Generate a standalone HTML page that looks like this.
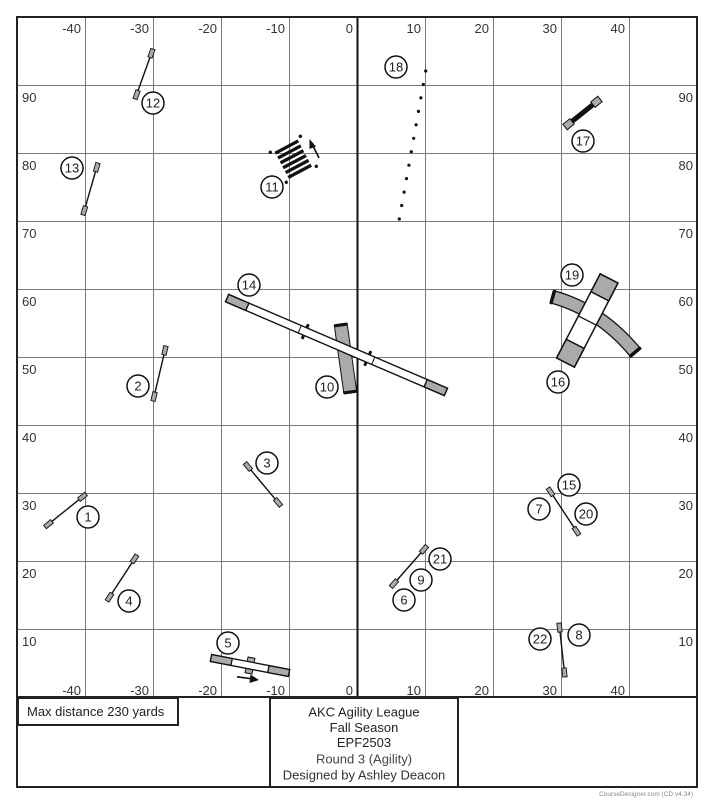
<!DOCTYPE html>
<html><head><meta charset="utf-8"><style>
html,body{margin:0;padding:0;background:#fff;}
svg{display:block;font-family:"Liberation Sans",Arial,sans-serif;}
</style></head><body>
<svg width="714" height="808" viewBox="0 0 714 808" xmlns="http://www.w3.org/2000/svg">
<rect x="0" y="0" width="714" height="808" fill="#fff"/>
<!-- grid -->
<g stroke="#7a7a7a" stroke-width="1">
<line x1="85.5" y1="17" x2="85.5" y2="697"/>
<line x1="153.5" y1="17" x2="153.5" y2="697"/>
<line x1="221.5" y1="17" x2="221.5" y2="697"/>
<line x1="289.5" y1="17" x2="289.5" y2="697"/>
<line x1="425.5" y1="17" x2="425.5" y2="697"/>
<line x1="493.5" y1="17" x2="493.5" y2="697"/>
<line x1="561.5" y1="17" x2="561.5" y2="697"/>
<line x1="629.5" y1="17" x2="629.5" y2="697"/>
<line x1="17" y1="85.5" x2="697" y2="85.5"/>
<line x1="17" y1="153.5" x2="697" y2="153.5"/>
<line x1="17" y1="221.5" x2="697" y2="221.5"/>
<line x1="17" y1="289.5" x2="697" y2="289.5"/>
<line x1="17" y1="357.5" x2="697" y2="357.5"/>
<line x1="17" y1="425.5" x2="697" y2="425.5"/>
<line x1="17" y1="493.5" x2="697" y2="493.5"/>
<line x1="17" y1="561.5" x2="697" y2="561.5"/>
<line x1="17" y1="629.5" x2="697" y2="629.5"/>
</g>
<line x1="357.5" y1="17" x2="357.5" y2="697" stroke="#111" stroke-width="2"/>
<!-- borders -->
<rect x="17" y="17" width="680" height="770" fill="none" stroke="#222" stroke-width="2"/>
<line x1="17" y1="697" x2="697" y2="697" stroke="#222" stroke-width="2"/>
<!-- axis labels -->
<g font-size="13" fill="#333" text-anchor="end">
<text x="81" y="33">-40</text><text x="149" y="33">-30</text><text x="217" y="33">-20</text><text x="285" y="33">-10</text><text x="353" y="33">0</text>
<text x="421" y="33">10</text><text x="489" y="33">20</text><text x="557" y="33">30</text><text x="625" y="33">40</text>
<text x="81" y="695">-40</text><text x="149" y="695">-30</text><text x="217" y="695">-20</text><text x="285" y="695">-10</text><text x="353" y="695">0</text>
<text x="421" y="695">10</text><text x="489" y="695">20</text><text x="557" y="695">30</text><text x="625" y="695">40</text>
<text x="693" y="102">90</text><text x="693" y="170">80</text><text x="693" y="238">70</text><text x="693" y="306">60</text><text x="693" y="374">50</text>
<text x="693" y="442">40</text><text x="693" y="510">30</text><text x="693" y="578">20</text><text x="693" y="646">10</text>
</g>
<g font-size="13" fill="#333">
<text x="22" y="102">90</text><text x="22" y="170">80</text><text x="22" y="238">70</text><text x="22" y="306">60</text><text x="22" y="374">50</text>
<text x="22" y="442">40</text><text x="22" y="510">30</text><text x="22" y="578">20</text><text x="22" y="646">10</text>
</g>

<!-- jumps -->
<defs>
<g id="w"><rect x="0" y="-2.2" width="9" height="4.4" fill="#aaa" stroke="#111" stroke-width="0.9"/></g>
</defs>
<g stroke="#111">
<g transform="translate(65.5,510.5) rotate(-38.8)"><line x1="-17.3" y1="0" x2="17.3" y2="0" stroke-width="1.4"/><use href="#w" x="-26.3"/><use href="#w" x="17.3"/></g>
<g transform="translate(159.5,373.5) rotate(103.3)"><line x1="-19.2" y1="0" x2="19.2" y2="0" stroke-width="1.4"/><use href="#w" x="-28.2"/><use href="#w" x="19.2"/></g>
<g transform="translate(263,484.5) rotate(50.1)"><line x1="-19" y1="0" x2="19" y2="0" stroke-width="1.4"/><use href="#w" x="-28"/><use href="#w" x="19"/></g>
<g transform="translate(122,578) rotate(123.1)"><line x1="-18.4" y1="0" x2="18.4" y2="0" stroke-width="1.4"/><use href="#w" x="-27.4"/><use href="#w" x="18.4"/></g>
<g transform="translate(409,566.5) rotate(131.3)"><line x1="-18.3" y1="0" x2="18.3" y2="0" stroke-width="1.4"/><use href="#w" x="-27.3"/><use href="#w" x="18.3"/></g>
<g transform="translate(563.5,511.5) rotate(56.6)"><line x1="-19.1" y1="0" x2="19.1" y2="0" stroke-width="1.4"/><use href="#w" x="-28.1"/><use href="#w" x="19.1"/></g>
<g transform="translate(562,650) rotate(83.7)"><line x1="-18.1" y1="0" x2="18.1" y2="0" stroke-width="1.4"/><use href="#w" x="-27.1"/><use href="#w" x="18.1"/></g>
<g transform="translate(144,74) rotate(109.8)"><line x1="-17.5" y1="0" x2="17.5" y2="0" stroke-width="1.4"/><use href="#w" x="-26.5"/><use href="#w" x="17.5"/></g>
<g transform="translate(90.5,189) rotate(106.1)"><line x1="-18" y1="0" x2="18" y2="0" stroke-width="1.4"/><use href="#w" x="-27"/><use href="#w" x="18"/></g>
<g transform="translate(582.5,113) rotate(141.3)"><line x1="-14" y1="0" x2="14" y2="0" stroke-width="5"/>
<rect x="-22.4" y="-3.5" width="9" height="7" fill="#aaa" stroke="#111" stroke-width="1"/>
<rect x="13.4" y="-3.5" width="9" height="7" fill="#aaa" stroke="#111" stroke-width="1"/></g>
</g>

<!-- weave 18 -->
<g fill="#111">
<circle cx="425.7" cy="71" r="1.6"/><circle cx="423.3" cy="84.5" r="1.6"/><circle cx="420.9" cy="97.9" r="1.6"/><circle cx="418.5" cy="111.4" r="1.6"/>
<circle cx="416.1" cy="124.8" r="1.6"/><circle cx="413.7" cy="138.3" r="1.6"/><circle cx="411.3" cy="151.7" r="1.6"/><circle cx="408.9" cy="165.2" r="1.6"/>
<circle cx="406.5" cy="178.6" r="1.6"/><circle cx="404.1" cy="192.1" r="1.6"/><circle cx="401.7" cy="205.5" r="1.6"/><circle cx="399.3" cy="219" r="1.6"/>
</g>

<!-- obstacle 11 -->
<g transform="translate(293.3,159.3) rotate(-28)">
<g fill="#111">
<rect x="-13" y="-15.5" width="26" height="3.3"/>
<rect x="-13" y="-10" width="26" height="3.3"/>
<rect x="-13" y="-4.5" width="26" height="3.3"/>
<rect x="-13" y="1" width="26" height="3.3"/>
<rect x="-13" y="6.5" width="26" height="3.3"/>
<rect x="-13" y="12" width="26" height="3.3"/>
<circle cx="-17" cy="-17" r="1.7"/><circle cx="17" cy="-17" r="1.7"/><circle cx="17" cy="17" r="1.7"/><circle cx="-17" cy="17" r="1.7"/>
</g>
</g>
<line x1="319" y1="158" x2="312.5" y2="145" stroke="#111" stroke-width="1.6"/>
<polygon points="309.5,139 316,146.5 309.5,149" fill="#111"/>

<!-- tunnel 10 -->
<g transform="translate(345.5,358.5) rotate(-8)">
<rect x="-6.5" y="-34" width="13" height="68" fill="#aaa" stroke="#111" stroke-width="1"/>
<rect x="-7" y="-35.5" width="14" height="3.2" rx="1.5" fill="#111"/>
<rect x="-7" y="32.3" width="14" height="3.2" rx="1.5" fill="#111"/>
</g>

<!-- dogwalk 14 -->
<g transform="translate(336.5,345) rotate(23.2)">
<rect x="-35.5" y="-8" width="3" height="16" fill="#111"/>
<rect x="32.5" y="-8" width="3" height="16" fill="#111"/>
<rect x="-119" y="-4" width="238" height="8" fill="#fff" stroke="#111" stroke-width="1.4"/>
<rect x="-119" y="-4" width="22" height="8" fill="#aaa" stroke="#111" stroke-width="1.4"/>
<rect x="97" y="-4" width="22" height="8" fill="#aaa" stroke="#111" stroke-width="1.4"/>
<line x1="-40" y1="-4" x2="-40" y2="4" stroke="#111" stroke-width="1"/>
<line x1="40" y1="-4" x2="40" y2="4" stroke="#111" stroke-width="1"/>
</g>

<!-- curved tunnel 19 -->
<path d="M553,297 Q600,310 635,352" fill="none" stroke="#111" stroke-width="14"/>
<path d="M553,297 Q600,310 635,352" fill="none" stroke="#aaa" stroke-width="11.5"/>
<g transform="translate(553,297) rotate(15.5)"><rect x="-2" y="-7.5" width="3.5" height="15" rx="1.5" fill="#111"/></g>
<g transform="translate(635,352) rotate(50)"><rect x="-1.5" y="-7.5" width="3.5" height="15" rx="1.5" fill="#111"/></g>

<!-- A-frame 16 -->
<g transform="translate(587.3,320.5) rotate(27.4)">
<rect x="-10" y="-47.3" width="20" height="94.6" fill="#fff" stroke="#111" stroke-width="1.5"/>
<rect x="-10" y="-47.3" width="20" height="20" fill="#aaa" stroke="#111" stroke-width="1.5"/>
<rect x="-10" y="26.3" width="20" height="21" fill="#aaa" stroke="#111" stroke-width="1.5"/>
<line x1="-10" y1="0" x2="10" y2="0" stroke="#111" stroke-width="1.3"/>
</g>

<!-- seesaw 5 -->
<g transform="translate(250,665.5) rotate(10.9)">
<rect x="-3.5" y="-8" width="7" height="16" fill="#aaa" stroke="#111" stroke-width="1"/>
<rect x="-39.7" y="-3.5" width="79.4" height="7" fill="#fff" stroke="#111" stroke-width="1.3"/>
<rect x="-39.7" y="-3.5" width="21" height="7" fill="#aaa" stroke="#111" stroke-width="1.3"/>
<rect x="18.7" y="-3.5" width="21" height="7" fill="#aaa" stroke="#111" stroke-width="1.3"/>
</g>
<line x1="237" y1="676.8" x2="252" y2="678.8" stroke="#111" stroke-width="1.6"/>
<polygon points="259,680 250.5,674.5 249.5,683" fill="#111"/>

<!-- number circles -->
<g fill="#fff" stroke="#111" stroke-width="1.5">
<circle cx="88" cy="517" r="11"/><circle cx="138" cy="386" r="11"/><circle cx="267" cy="463" r="11"/><circle cx="129" cy="601" r="11"/>
<circle cx="228" cy="643" r="11"/><circle cx="404" cy="600" r="11"/><circle cx="539" cy="509" r="11"/><circle cx="579" cy="635" r="11"/>
<circle cx="421" cy="580" r="11"/><circle cx="327" cy="387" r="11"/><circle cx="272" cy="187" r="11"/><circle cx="153" cy="103" r="11"/>
<circle cx="72" cy="168" r="11"/><circle cx="249" cy="285" r="11"/><circle cx="569" cy="485" r="11"/><circle cx="558" cy="382" r="11"/>
<circle cx="583" cy="141" r="11"/><circle cx="396" cy="67" r="11"/><circle cx="572" cy="275" r="11"/><circle cx="586" cy="514" r="11"/>
<circle cx="440" cy="559" r="11"/><circle cx="540" cy="639" r="11"/>
</g>
<g font-size="13" fill="#222" text-anchor="middle">
<text x="88" y="521.5">1</text><text x="138" y="390.5">2</text><text x="267" y="467.5">3</text><text x="129" y="605.5">4</text>
<text x="228" y="647.5">5</text><text x="404" y="604.5">6</text><text x="539" y="513.5">7</text><text x="579" y="639.5">8</text>
<text x="421" y="584.5">9</text><text x="327" y="391.5">10</text><text x="272" y="191.5">11</text><text x="153" y="107.5">12</text>
<text x="72" y="172.5">13</text><text x="249" y="289.5">14</text><text x="569" y="489.5">15</text><text x="558" y="386.5">16</text>
<text x="583" y="145.5">17</text><text x="396" y="71.5">18</text><text x="572" y="279.5">19</text><text x="586" y="518.5">20</text>
<text x="440" y="563.5">21</text><text x="540" y="643.5">22</text>
</g>

<!-- bottom info boxes -->
<rect x="18" y="698" width="160" height="27" fill="#fff" stroke="#222" stroke-width="2"/>
<text x="27" y="716" font-size="13" fill="#222">Max distance 230 yards</text>
<rect x="270" y="698" width="188" height="89" fill="#fff" stroke="#222" stroke-width="2"/>
<g font-size="13" text-anchor="middle">
<text x="364" y="716.5" fill="#222">AKC Agility League</text>
<text x="364" y="732" fill="#222">Fall Season</text>
<text x="364" y="747" fill="#222">EPF2503</text>
<text x="364" y="763.5" fill="#444">Round 3 (Agility)</text>
<text x="364" y="779.5" fill="#333">Designed by Ashley Deacon</text>
</g>
<text x="693" y="796" font-size="6.5" fill="#888" text-anchor="end">CourseDesigner.com (CD v4.34)</text>
</svg>
</body></html>
